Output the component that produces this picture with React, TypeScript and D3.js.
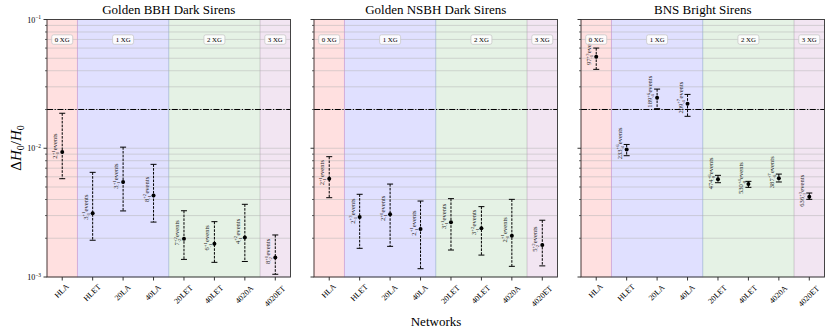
import React from "react";
import { scaleLinear, scaleLog, range } from "d3";

// networks on the x axis
const networks = ["HLA", "HLET", "20LA", "40LA", "20LET", "40LET", "4020A", "4020ET"];

// detector generation bands: [label, first index, last index]
const generations: [string, number, number, string][] = [
  ["0 XG", 0, 0, "rgba(255,0,0,0.12)"],
  ["1 XG", 1, 3, "rgba(0,0,255,0.12)"],
  ["2 XG", 4, 6, "rgba(0,128,0,0.1)"],
  ["3 XG", 7, 7, "rgba(128,0,128,0.1)"],
];

const titles = ["Golden BBH Dark Sirens", "Golden NSBH Dark Sirens", "BNS Bright Sirens"];

// Golden BBH dark sirens
const bbhMid = [0.00935, 0.00313, 0.00547, 0.0043, 0.00198, 0.00181, 0.00203, 0.00142];
const bbhHi = [0.0187, 0.0065, 0.0102, 0.0075, 0.00327, 0.00269, 0.00367, 0.00212];
const bbhLo = [0.0058, 0.00193, 0.00326, 0.00267, 0.00137, 0.0013, 0.00132, 0.00105];
const bbhEvents = [["2", "+1", "-0"], ["3", "+1", "-1"], ["3", "+1", "-1"], ["8", "+2", "-1"], ["7", "+2", "-2"], ["6", "+1", "-1"], ["4", "+2", "-1"], ["8", "+0", "-2"]];

// Golden NSBH dark sirens
const nsbhMid = [0.0058, 0.00292, 0.00307, 0.00236, 0.00266, 0.00239, 0.00209, 0.00177];
const nsbhHi = [0.0086, 0.00439, 0.00527, 0.00389, 0.00406, 0.00352, 0.00401, 0.00276];
const nsbhLo = [0.00413, 0.00167, 0.00173, 0.00116, 0.00162, 0.00148, 0.00121, 0.00122];
const nsbhEvents = [["2", "+1", "-1"], ["2", "+3", "-1"], ["2", "+0", "-1"], ["2", "+1", "-1"], ["3", "+1", "-1"], ["3", "+2", "-1"], ["2", "+1", "-0"], ["5", "+2", "-2"]];

// BNS bright sirens
const bnsMid = [0.0514, 0.0098, 0.0247, 0.0222, 0.00574, 0.00527, 0.00585, 0.0042];
const bnsHi = [0.06, 0.0107, 0.0288, 0.0262, 0.00616, 0.00553, 0.0063, 0.00449];
const bnsLo = [0.041, 0.00875, 0.0203, 0.0177, 0.0054, 0.00497, 0.00547, 0.00401];
const bnsEvents = [["97", "+3", "-1"], ["233", "+6", "-4"], ["189", "+6", "-4"], ["209", "+7", "-4"], ["474", "+6", "-8"], ["530", "+4", "-8"], ["387", "+7", "-6"], ["636", "+3", "-3"]];

const panels = [
  { mid: bbhMid, hi: bbhHi, lo: bbhLo, events: bbhEvents },
  { mid: nsbhMid, hi: nsbhHi, lo: nsbhLo, events: nsbhEvents },
  { mid: bnsMid, hi: bnsHi, lo: bnsLo, events: bnsEvents },
];

const target = 0.02;

const FONT = "'Liberation Serif', 'DejaVu Serif', serif";
const panelX = [47, 314, 581];
const panelW = 243.5;
const top = 19.5;
const bottom = 277;

const y = scaleLog().domain([1e-3, 1e-1]).range([bottom, top]);
const majors = [1e-3, 1e-2, 1e-1];
const minors = [1e-3, 1e-2].flatMap((d) => range(2, 10).map((k) => d * k));

function Panel({ idx }: { idx: number }) {
  const p = panels[idx];
  const x0 = panelX[idx];
  const x = scaleLinear().domain([-0.5, networks.length - 0.5]).range([x0, x0 + panelW]);
  const clipId = "clip" + idx;
  return (
    <g>
      <defs>
        <clipPath id={clipId}>
          <rect x={x0} y={top} width={panelW} height={bottom - top} />
        </clipPath>
      </defs>
      {generations.map(([name, a, b, col]) => (
        <rect key={name} x={x(a - 0.5)} y={top} width={x(b + 0.5) - x(a - 0.5)} height={bottom - top}
          fill={col} stroke={col} strokeWidth={1} />
      ))}
      {[...majors, ...minors].map((v) => (
        <line key={v} x1={x0} x2={x0 + panelW} y1={y(v)} y2={y(v)} stroke="#b0b0b0" strokeOpacity={0.6} strokeWidth={0.8} />
      ))}
      <line x1={x0} x2={x0 + panelW} y1={y(target)} y2={y(target)} stroke="#000" strokeWidth={1} strokeDasharray="6 1.6 1.2 1.6" />
      <g clipPath={`url(#${clipId})`}>
        {networks.map((n, i) => {
          const cx = x(i);
          const [num, up, dn] = p.events[i];
          const ly = y(p.mid[i]) - 6;
          return (
            <g key={n}>
              <line x1={cx} x2={cx} y1={y(p.hi[i])} y2={y(p.lo[i])} stroke="#000" strokeWidth={1} strokeDasharray="2.6 1.2" />
              <line x1={cx - 3} x2={cx + 3} y1={y(p.hi[i])} y2={y(p.hi[i])} stroke="#000" strokeWidth={1} />
              <line x1={cx - 3} x2={cx + 3} y1={y(p.lo[i])} y2={y(p.lo[i])} stroke="#000" strokeWidth={1} />
              <circle cx={cx} cy={y(p.mid[i])} r={2} fill="#000" />
              <text transform={`translate(${cx - 5},${ly}) rotate(-90)`} textAnchor="middle" fontSize={6.6} fontFamily={FONT} fill="#222">
                {num}
                <tspan fontSize={4.6} dy={-2.4}>{up}</tspan>
                <tspan fontSize={4.6} dx={-5.2} dy={4.6}>{dn}</tspan>
                <tspan dy={-2.2}>{"\u00a0events"}</tspan>
              </text>
            </g>
          );
        })}
      </g>
      {generations.map(([name, a, b]) => {
        const cx = (x(a - 0.5) + x(b + 0.5)) / 2;
        return (
          <g key={"lab" + name}>
            <rect x={cx - 10.5} y={34.8} width={21} height={9.5} rx={2} fill="white" fillOpacity={0.85} stroke="#c8c8c8" strokeWidth={0.8} />
            <text x={cx} y={42} fontSize={6.8} textAnchor="middle" fontFamily={FONT}>{name}</text>
          </g>
        );
      })}
      {networks.map((n, i) => (
        <g key={"x" + n}>
          <line x1={x(i)} x2={x(i)} y1={bottom} y2={bottom + 3.5} stroke="#000" strokeWidth={0.8} />
          <text transform={`translate(${x(i)},${284 + (n.length * 5 + 6) * 0.354}) rotate(-45)`} textAnchor="middle"
            dominantBaseline="middle" fontSize={8} fontFamily={FONT}>{n}</text>
        </g>
      ))}
      {majors.map((v) => (
        <line key={"M" + v} x1={x0 - 3.5} x2={x0} y1={y(v)} y2={y(v)} stroke="#000" strokeWidth={0.8} />
      ))}
      {minors.map((v) => (
        <line key={"m" + v} x1={x0 - 2} x2={x0} y1={y(v)} y2={y(v)} stroke="#000" strokeWidth={0.6} />
      ))}
      {idx === 0 && majors.map((v) => (
        <text key={"t" + v} x={x0 - 6} y={y(v) + 3} textAnchor="end" fontSize={8} fontFamily={FONT}>
          10<tspan fontSize={5.5} dy={-3.5}>{"\u2212" + Math.round(-Math.log10(v))}</tspan>
        </text>
      ))}
      <rect x={x0} y={top} width={panelW} height={bottom - top} fill="none" stroke="#333" strokeWidth={0.9} />
      <text x={x0 + panelW / 2} y={14} textAnchor="middle" fontSize={13} fontFamily={FONT}>{titles[idx]}</text>
    </g>
  );
}

export default function App() {
  return (
    <svg width={830} height={334} style={{ position: "absolute", left: 0, top: 0, background: "#fff" }}>
      {panels.map((_, i) => <Panel key={i} idx={i} />)}
      <text x={436} y={326} textAnchor="middle" fontSize={13} fontFamily={FONT}>Networks</text>
      <text transform="translate(21,148) rotate(-90)" textAnchor="middle" fontSize={15} fontFamily={FONT}>
        Δ<tspan fontStyle="italic">H</tspan><tspan fontSize={10} dy={3}>0</tspan><tspan dy={-3}>/</tspan><tspan fontStyle="italic">H</tspan><tspan fontSize={10} dy={3}>0</tspan>
      </text>
    </svg>
  );
}
